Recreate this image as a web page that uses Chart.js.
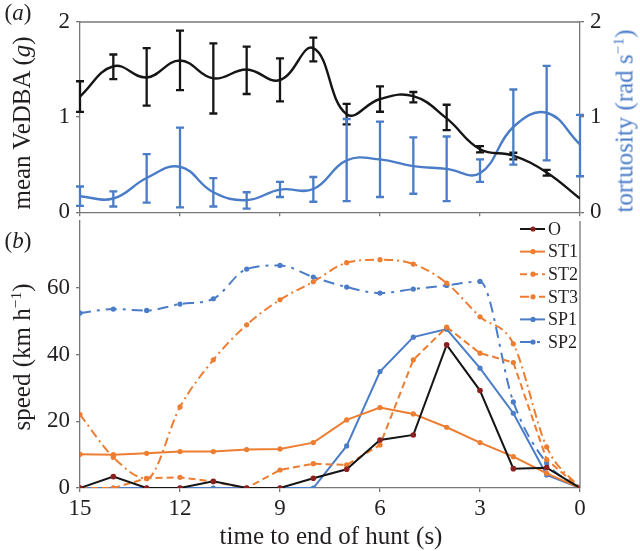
<!DOCTYPE html>
<html><head><meta charset="utf-8">
<script src="https://cdn.jsdelivr.net/npm/chart.js@4.4.0/dist/chart.umd.min.js"></script>
<style>
html,body{margin:0;padding:0;background:#fff;width:640px;height:551px;overflow:hidden;}
#wrap{position:relative;width:640px;height:551px;font-family:"Liberation Serif","Times New Roman",serif;color:#231f20;}
canvas{position:absolute;left:0;}
.lbl{position:absolute;white-space:nowrap;font-size:23px;line-height:1;transform:translate(-50%,-50%);}
.ttl{font-size:25px;}
.rot{transform:translate(-50%,-50%) rotate(-90deg);}
sup{font-size:0.62em;vertical-align:0;position:relative;top:-0.55em;}
</style></head><body>
<div id="wrap">
<canvas id="top" width="640" height="232" style="top:0"></canvas>
<canvas id="bot" width="640" height="351" style="top:200px"></canvas>
<div class="lbl" style="left:18px;top:12px">(<i>a</i>)</div>
<div class="lbl" style="left:18px;top:240px">(<i>b</i>)</div>
<div class="lbl ttl rot" style="left:21px;top:123px">mean VeDBA (<i>g</i>)</div>
<div class="lbl ttl rot" style="left:624px;top:121px;color:#4a7cc7">tortuosity (rad s<sup>−1</sup>)</div>
<div class="lbl ttl rot" style="left:21px;top:357px">speed (km h<sup>−1</sup>)</div>
<div class="lbl ttl" style="left:331px;top:535px">time to end of hunt (s)</div>
</div>
<script>
// ---- data ----
const times = [15,14,13,12,11,10,9,8,7,6,5,4,3,2,1,0];
const xTicks = [15,12,9,6,3,0];
const aTicks = [0,1,2];
const speedTicks = [0,20,40,60];

const vedba     = [1.216,1.535,1.417,1.595,1.407,1.50,1.39,1.725,1.03,1.19,1.22,0.986,0.662,0.595,0.418,0.143];
const vedbaLow  = [1.055,1.40,1.12,1.283,1.038,1.243,1.166,1.585,0.923,1.056,1.154,0.863,0.629,0.555,0.385,null];
const vedbaHigh = [1.377,1.658,1.725,1.91,1.776,1.742,1.618,1.836,1.14,1.324,1.264,1.13,0.695,0.625,0.445,null];

const tort      = [0.167,0.144,0.36,0.478,0.21,0.127,0.238,0.244,0.545,0.555,0.485,0.455,0.41,0.896,1.046,0.712];
const tortLow   = [0.067,0.06,0.10,0.05,0.06,0.037,0.16,0.11,0.117,0.16,0.194,0.117,0.318,0.50,0.545,0.378];
const tortHigh  = [0.27,0.22,0.61,0.89,0.358,0.21,0.318,0.37,0.98,0.953,0.786,0.796,0.555,1.29,1.538,1.023];

const seriesNames = ['O','ST1','ST2','ST3','SP1','SP2'];
const O   = [0,3.4,0,0,2.0,0,0,2.9,5.6,14.4,15.9,42.9,29.2,5.8,6.1,0];
const ST1 = [10.1,10.0,10.4,10.9,10.9,11.5,11.7,13.6,20.4,24.1,22.2,18.2,13.6,9.4,4.4,0];
const ST2 = [0,0,2.9,3.2,1.9,0,5.4,7.3,6.9,12.9,38.4,48.2,40.4,37.6,8.5,0];
const ST3 = [22,9.2,2.8,24.3,38.4,48.9,56.4,61.8,67.5,68.4,67.1,61.4,51.3,43.2,12.3,0];
const SP1 = [0,0,0,0,0,0,0,0,12.6,34.9,45.2,47.6,35.9,22.4,3.9,0];
const SP2 = [52.4,53.6,53.2,55.1,56.7,65.6,66.7,63.2,60.2,58.4,59.6,60.7,61.9,25.8,7.5,0];

// ---- style ----
const BLACK='#151515', ORANGE='#ED7D31', BLUE='#4A7CC7', AX='#777', TXT='#231f20';
const FONT={family:"'Liberation Serif','Times New Roman',serif",size:23};
const pts = arr => times.map((t,i)=>({x:t,y:arr[i]}));
const fixTicks = list => (s)=>{ s.ticks = list.map(v=>({value:v})); };

const errorBars = {
  id:'errorBars',
  afterDatasetsDraw(chart){
    const ctx=chart.ctx, xs=chart.scales.x;
    chart.data.datasets.forEach(ds=>{
      if(!ds.errLow) return;
      const ys=chart.scales[ds.yAxisID];
      ctx.save(); ctx.strokeStyle=ds.borderColor; ctx.lineWidth=2.3;
      ds.data.forEach((p,j)=>{
        const lo=ds.errLow[j], hi=ds.errHigh[j];
        if(lo==null||hi==null) return;
        const x=xs.getPixelForValue(p.x), y1=ys.getPixelForValue(lo), y2=ys.getPixelForValue(hi);
        ctx.beginPath();
        ctx.moveTo(x,y1); ctx.lineTo(x,y2);
        ctx.moveTo(x-4,y1); ctx.lineTo(x+4,y1);
        ctx.moveTo(x-4,y2); ctx.lineTo(x+4,y2);
        ctx.stroke();
      });
      ctx.restore();
    });
  }
};
const frame = {
  id:'frame',
  afterDraw(chart,args,opts){
    const a=chart.chartArea, ctx=chart.ctx;
    ctx.save(); ctx.strokeStyle=AX; ctx.lineWidth=1.3; ctx.beginPath();
    if(opts.top){ctx.moveTo(a.left,a.top); ctx.lineTo(a.right,a.top);}
    if(opts.right){ctx.moveTo(a.right,a.top); ctx.lineTo(a.right,a.bottom);}
    ctx.stroke(); ctx.restore();
  }
};
const lineLegend = {
  id:'lineLegend',
  afterDraw(chart){
    const ctx=chart.ctx;
    ctx.save();
    chart.data.datasets.forEach((ds,i)=>{
      const y=29+i*22.6, x0=520, x1=545, xm=533;
      ctx.strokeStyle=ds.borderColor; ctx.lineWidth=ds.borderWidth;
      ctx.setLineDash(ds.borderDash||[]);
      ctx.beginPath(); ctx.moveTo(x0,y); ctx.lineTo(x1,y); ctx.stroke();
      ctx.setLineDash([]);
      ctx.fillStyle=ds.pointBackgroundColor;
      ctx.beginPath(); ctx.arc(xm,y,2.6,0,Math.PI*2); ctx.fill();
      ctx.fillStyle=TXT; ctx.font="18px 'Liberation Serif',serif";
      ctx.textBaseline='middle'; ctx.textAlign='left';
      ctx.fillText(ds.label,548,y+1);
    });
    ctx.restore();
  }
};

const axisCommon = (extra)=>Object.assign({
  grid:{drawOnChartArea:false,drawTicks:true,tickLength:4,color:AX,lineWidth:1.3},
  border:{display:true,color:AX,width:1.3},
  ticks:{font:FONT,color:TXT,padding:6}
},extra);

// ---- top panel ----
new Chart(document.getElementById('top'),{
  type:'line',
  data:{datasets:[
    {label:'mean VeDBA',data:pts(vedba),borderColor:BLACK,borderWidth:2.4,pointRadius:0,tension:0.42,yAxisID:'y',errLow:vedbaLow,errHigh:vedbaHigh},
    {label:'tortuosity',data:pts(tort),borderColor:BLUE,borderWidth:2.4,pointRadius:0,tension:0.42,yAxisID:'y2',errLow:tortLow,errHigh:tortHigh}
  ]},
  options:{
    responsive:false,animation:false,devicePixelRatio:1,
    layout:{padding:{top:22,left:0,right:0,bottom:0}},
    plugins:{legend:{display:false},tooltip:{enabled:false},frame:{top:true,right:false}},
    scales:{
      x:axisCommon({type:'linear',reverse:true,min:0,max:15,afterBuildTicks:fixTicks(xTicks),
        ticks:{display:false},afterFit(s){s.height=11;}}),
      y:axisCommon({position:'left',min:0,max:2,afterBuildTicks:fixTicks(aTicks),afterFit(s){s.width=80;}}),
      y2:axisCommon({position:'right',min:0,max:2,afterBuildTicks:fixTicks(aTicks),afterFit(s){s.width=60;}})
    }
  },
  plugins:[errorBars,frame]
});

// ---- bottom panel ----
const mk=(label,arr,color,dash,extra)=>Object.assign({label,data:pts(arr),borderColor:color,borderWidth:2,
  borderDash:dash,pointRadius:2.6,pointBorderWidth:0,pointBackgroundColor:color,tension:0},extra||{});
new Chart(document.getElementById('bot'),{
  type:'line',
  data:{datasets:[
    mk(seriesNames[0],O,BLACK,[],{pointBackgroundColor:'#8a2020',pointRadius:2.8}),
    mk(seriesNames[1],ST1,ORANGE,[]),
    mk(seriesNames[2],ST2,ORANGE,[7,4]),
    mk(seriesNames[3],ST3,ORANGE,[9,4,2,4],{cubicInterpolationMode:'monotone'}),
    mk(seriesNames[4],SP1,BLUE,[]),
    mk(seriesNames[5],SP2,BLUE,[11,6,3,6],{cubicInterpolationMode:'monotone'})
  ]},
  options:{
    responsive:false,animation:false,devicePixelRatio:1,
    layout:{padding:{top:21,left:0,right:60,bottom:0}},
    plugins:{legend:{display:false},tooltip:{enabled:false},frame:{top:false,right:true}},
    scales:{
      x:axisCommon({type:'linear',reverse:true,min:0,max:15,afterBuildTicks:fixTicks(xTicks),
        ticks:{font:FONT,color:TXT,padding:3,maxRotation:0},afterFit(s){s.height=63;}}),
      y:axisCommon({position:'left',min:0,max:80,afterBuildTicks:fixTicks(speedTicks),afterFit(s){s.width=80;}})
    }
  },
  plugins:[frame,lineLegend]
});
</script>
</body></html>
